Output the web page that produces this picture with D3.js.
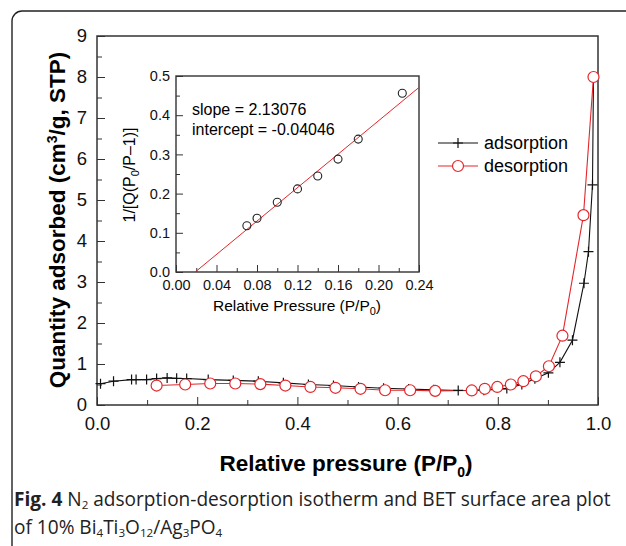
<!DOCTYPE html>
<html>
<head>
<meta charset="utf-8">
<script src="https://cdn.jsdelivr.net/npm/d3@7"></script>
<style>
  body { margin: 0; background: #fff; }
  svg { display: block; }
  .axis path, .axis line { stroke: #333; }
  .axis text { fill: #111; font-family: "Liberation Sans", Arial, sans-serif; }
</style>
</head>
<body>
<script>
// adsorption branch (P/P0, quantity adsorbed)
const adsP = [0.007, 0.033, 0.069, 0.078, 0.099, 0.119, 0.14, 0.159, 0.179, 0.222, 0.272, 0.322, 0.372, 0.422,
  0.472, 0.522, 0.572, 0.622, 0.672, 0.721, 0.772, 0.818, 0.848, 0.874, 0.901, 0.924, 0.949, 0.972, 0.981, 0.989, 0.991];
const adsQ = [0.52, 0.58, 0.62, 0.62, 0.62, 0.645, 0.66, 0.65, 0.645, 0.62, 0.60, 0.58, 0.54, 0.50,
  0.475, 0.44, 0.41, 0.39, 0.37, 0.355, 0.36, 0.40, 0.50, 0.64, 0.785, 1.04, 1.58, 2.97, 3.74, 5.37, 8.0];

// desorption branch
const desP = [0.119, 0.176, 0.226, 0.276, 0.326, 0.376, 0.426, 0.476, 0.526, 0.575, 0.625, 0.675, 0.748,
  0.774, 0.799, 0.826, 0.851, 0.876, 0.902, 0.929, 0.971, 0.991];
const desQ = [0.475, 0.50, 0.525, 0.525, 0.51, 0.475, 0.44, 0.42, 0.395, 0.36, 0.36, 0.345, 0.355,
  0.395, 0.44, 0.50, 0.58, 0.70, 0.945, 1.69, 4.63, 8.0];

// BET inset
const betP = [0.07, 0.08, 0.10, 0.12, 0.14, 0.16, 0.18, 0.2235];
const betY = [0.118, 0.137, 0.178, 0.212, 0.245, 0.288, 0.339, 0.456];
const fitSlope = 2.13076;
const fitIntercept = -0.04046;

const xTicks = [0, 0.2, 0.4, 0.6, 0.8, 1.0];
const yTicks = [0, 1, 2, 3, 4, 5, 6, 7, 8, 9];
const insetXTicks = [0, 0.04, 0.08, 0.12, 0.16, 0.20, 0.24];
const insetYTicks = [0, 0.1, 0.2, 0.3, 0.4, 0.5];
const legendLabels = ['adsorption', 'desorption'];

const FONT = '"Liberation Sans", Arial, sans-serif';
const RED = '#e3262b';

const svg = d3.select('body').append('svg')
    .attr('width', 626)
    .attr('height', 546);

// rounded figure frame (runs off the right and bottom)
svg.append('rect')
    .attr('x', 12).attr('y', 11)
    .attr('width', 660).attr('height', 580)
    .attr('rx', 10)
    .attr('fill', 'none')
    .attr('stroke', '#222')
    .attr('stroke-width', 1.4);

/* main plot */
const main = { left: 97, right: 598, top: 36, bottom: 405 };
const x = d3.scaleLinear().domain([0, 1]).range([main.left, main.right]);
const y = d3.scaleLinear().domain([0, 9]).range([main.bottom, main.top]);

// minor ticks first, then labelled major ticks
svg.append('g').attr('class', 'axis')
    .attr('transform', `translate(0,${main.bottom})`)
    .call(d3.axisBottom(x).tickValues(d3.range(0.1, 1, 0.2)).tickSize(-5).tickFormat(''))
    .call(g => g.select('.domain').remove());
svg.append('g').attr('class', 'axis')
    .attr('transform', `translate(${main.left},0)`)
    .call(d3.axisLeft(y).tickValues(d3.range(0.5, 9, 1)).tickSize(-5).tickFormat(''))
    .call(g => g.select('.domain').remove());

svg.append('g').attr('class', 'axis')
    .attr('transform', `translate(0,${main.bottom})`)
    .call(d3.axisBottom(x).tickValues(xTicks).tickSize(-8).tickPadding(12).tickFormat(d3.format('.1f')))
    .call(g => g.selectAll('text').attr('font-size', 18.5))
    .call(g => g.select('.domain').remove());
svg.append('g').attr('class', 'axis')
    .attr('transform', `translate(${main.left},0)`)
    .call(d3.axisLeft(y).tickValues(yTicks).tickSize(-8).tickPadding(10).tickFormat(d3.format('d')))
    .call(g => g.selectAll('text').attr('font-size', 18.5))
    .call(g => g.select('.domain').remove());

svg.append('rect')
    .attr('x', main.left).attr('y', main.top)
    .attr('width', main.right - main.left).attr('height', main.bottom - main.top)
    .attr('fill', 'none').attr('stroke', '#333').attr('stroke-width', 1.5);

// axis titles
const xTitle = svg.append('text')
    .attr('x', 346).attr('y', 471)
    .attr('text-anchor', 'middle')
    .attr('font-family', FONT).attr('font-weight', 'bold').attr('font-size', 22.5)
    .text('Relative pressure (P/P');
xTitle.append('tspan').attr('dy', 6).attr('font-size', 14).text('0');
xTitle.append('tspan').attr('dy', -6).text(')');

const yTitle = svg.append('text')
    .attr('transform', 'translate(65,220) rotate(-90)')
    .attr('text-anchor', 'middle')
    .attr('font-family', FONT).attr('font-weight', 'bold').attr('font-size', 22.5)
    .text('Quantity adsorbed (cm');
yTitle.append('tspan').attr('dy', -8).attr('font-size', 14).text('3');
yTitle.append('tspan').attr('dy', 8).text('/g, STP)');

// isotherm lines
const ads = adsP.map((p, i) => ({ p, q: adsQ[i] }));
const des = desP.map((p, i) => ({ p, q: desQ[i] }));
const line = d3.line().x(d => x(d.p)).y(d => y(d.q));

svg.append('path').datum(ads)
    .attr('d', line).attr('fill', 'none').attr('stroke', '#111').attr('stroke-width', 1.1);
svg.append('path').datum(des)
    .attr('d', line).attr('fill', 'none').attr('stroke', RED).attr('stroke-width', 1.1);

function plusMark(sel) {
  sel.append('path')
      .attr('d', 'M-5,0H5M0,-5V5')
      .attr('stroke', '#111').attr('stroke-width', 1.2).attr('fill', 'none');
}

svg.append('g').selectAll('g')
    .data(ads.slice(0, -1))
    .join('g')
    .attr('transform', d => `translate(${x(d.p)},${y(d.q)})`)
    .call(plusMark);

svg.append('g').selectAll('circle')
    .data(des)
    .join('circle')
    .attr('cx', d => x(d.p)).attr('cy', d => y(d.q))
    .attr('r', 5.5)
    .attr('fill', '#fff').attr('stroke', RED).attr('stroke-width', 1.2);

// legend
const legend = svg.append('g').selectAll('g')
    .data(legendLabels)
    .join('g')
    .attr('transform', (d, i) => `translate(438,${143 + i * 23})`);
legend.append('line')
    .attr('x1', 0).attr('x2', 40)
    .attr('stroke', (d, i) => i ? RED : '#111').attr('stroke-width', 1.1);
legend.filter((d, i) => i === 0).append('g').attr('transform', 'translate(20,0)').call(plusMark);
legend.filter((d, i) => i === 1).append('circle')
    .attr('cx', 20).attr('r', 5.5)
    .attr('fill', '#fff').attr('stroke', RED).attr('stroke-width', 1.2);
legend.append('text')
    .attr('x', 46).attr('dy', '0.36em')
    .attr('font-family', FONT).attr('font-size', 18)
    .text(d => d);

/* BET inset */
const ins = { left: 176, right: 419, top: 76, bottom: 272 };
const ix = d3.scaleLinear().domain([0, 0.24]).range([ins.left, ins.right]);
const iy = d3.scaleLinear().domain([0, 0.5]).range([ins.bottom, ins.top]);

svg.append('g').attr('class', 'axis')
    .attr('transform', `translate(0,${ins.bottom})`)
    .call(d3.axisBottom(ix).tickValues(d3.range(0.02, 0.24, 0.04)).tickSize(-4).tickFormat(''))
    .call(g => g.select('.domain').remove());
svg.append('g').attr('class', 'axis')
    .attr('transform', `translate(${ins.left},0)`)
    .call(d3.axisLeft(iy).tickValues(d3.range(0.05, 0.5, 0.1)).tickSize(-4).tickFormat(''))
    .call(g => g.select('.domain').remove());
svg.append('g').attr('class', 'axis')
    .attr('transform', `translate(0,${ins.bottom})`)
    .call(d3.axisBottom(ix).tickValues(insetXTicks).tickSize(-7).tickPadding(8).tickFormat(d3.format('.2f')))
    .call(g => g.selectAll('text').attr('font-size', 14.5))
    .call(g => g.select('.domain').remove());
svg.append('g').attr('class', 'axis')
    .attr('transform', `translate(${ins.left},0)`)
    .call(d3.axisLeft(iy).tickValues(insetYTicks).tickSize(-7).tickPadding(6).tickFormat(d3.format('.1f')))
    .call(g => g.selectAll('text').attr('font-size', 14.5))
    .call(g => g.select('.domain').remove());

svg.append('rect')
    .attr('x', ins.left).attr('y', ins.top)
    .attr('width', ins.right - ins.left).attr('height', ins.bottom - ins.top)
    .attr('fill', 'none').attr('stroke', '#333').attr('stroke-width', 1.4);

// fitted BET line from the x-intercept to the right edge
const fitX = [-fitIntercept / fitSlope, 0.24];
svg.append('line')
    .attr('x1', ix(fitX[0])).attr('y1', iy(fitSlope * fitX[0] + fitIntercept))
    .attr('x2', ix(fitX[1])).attr('y2', iy(fitSlope * fitX[1] + fitIntercept))
    .attr('stroke', RED).attr('stroke-width', 1);

svg.append('g').selectAll('circle')
    .data(betP.map((p, i) => ({ p, v: betY[i] })))
    .join('circle')
    .attr('cx', d => ix(d.p)).attr('cy', d => iy(d.v))
    .attr('r', 4)
    .attr('fill', 'none').attr('stroke', '#222').attr('stroke-width', 1.1);

svg.append('text')
    .attr('x', 192).attr('y', 115)
    .attr('font-family', FONT).attr('font-size', 16)
    .text(`slope = ${fitSlope}`);
svg.append('text')
    .attr('x', 192).attr('y', 135)
    .attr('font-family', FONT).attr('font-size', 16)
    .text(`intercept = ${fitIntercept}`);

const ixTitle = svg.append('text')
    .attr('x', 297).attr('y', 311)
    .attr('text-anchor', 'middle')
    .attr('font-family', FONT).attr('font-size', 15.5)
    .text('Relative Pressure (P/P');
ixTitle.append('tspan').attr('dy', 4).attr('font-size', 11).text('0');
ixTitle.append('tspan').attr('dy', -4).text(')');

const iyTitle = svg.append('text')
    .attr('transform', 'translate(135,175) rotate(-90)')
    .attr('text-anchor', 'middle')
    .attr('font-family', FONT).attr('font-size', 16)
    .text('1/[Q(P');
iyTitle.append('tspan').attr('dy', 4).attr('font-size', 11).text('0');
iyTitle.append('tspan').attr('dy', -4).text('/P\u20131)]');

/* caption */
const CAP = '"Open Sans", "Noto Sans", sans-serif';
const cap1 = svg.append('text')
    .attr('x', 14).attr('y', 506)
    .attr('font-family', CAP).attr('font-size', 18).attr('fill', '#222');
cap1.append('tspan').attr('font-weight', 'bold').text('Fig. 4');
cap1.append('tspan').text(' N');
cap1.append('tspan').attr('dy', 3).attr('font-size', 11).text('2');
cap1.append('tspan').attr('dy', -3).text(' adsorption-desorption isotherm and BET surface area plot');

const cap2 = svg.append('text')
    .attr('x', 14).attr('y', 534)
    .attr('font-family', CAP).attr('font-size', 18).attr('fill', '#222');
const parts = [['of 10% Bi', 0], ['4', 1], ['Ti', 0], ['3', 1], ['O', 0], ['12', 1], ['/Ag', 0], ['3', 1], ['PO', 0], ['4', 1]];
let prevSub = 0;
parts.forEach(([t, sub]) => {
  cap2.append('tspan')
      .attr('dy', (sub - prevSub) * 3)
      .attr('font-size', sub ? 11 : 18)
      .text(t);
  prevSub = sub;
});

// fit caption lines to the width of the reference text block
const capWidth = cap1.node().getComputedTextLength();
const k = 597 / capWidth;
[cap1, cap2].forEach(c => {
  c.attr('font-size', 18 * k);
  c.selectAll('tspan').each(function() {
    const fs = d3.select(this).attr('font-size');
    if (fs) d3.select(this).attr('font-size', fs * k);
  });
});
</script>
</body>
</html>
